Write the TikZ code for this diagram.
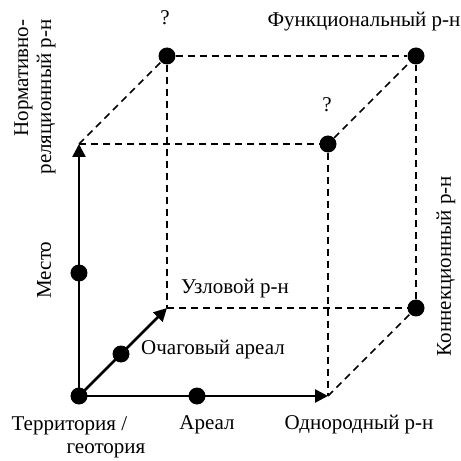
\documentclass[tikz,border=0pt]{standalone}
\usepackage{fontspec}
\setmainfont{Liberation Serif}
\usetikzlibrary{arrows.meta, positioning, calc}

\begin{document}
\begin{tikzpicture}[x=1pt, y=1pt,
    dot/.style={circle, fill=black, inner sep=0pt, minimum size=17pt},
    axis/.style={line width=2.6pt, -{Triangle[length=13pt,width=13pt]}},
    edge/.style={line width=1.6pt, dash pattern=on 7pt off 5pt},
    lbl/.style={font=\fontsize{21}{23}\selectfont, inner sep=0pt}]
\useasboundingbox (-79,-65) rectangle (382,396);

% Cube corners
\node[dot] (o) at (0,0) {};
\coordinate (x) at (249,0);
\coordinate (y) at (0,252);
\coordinate (z) at (88,88);
\node[dot] (xy) at (249,252) {};
\node[dot] (xz) at (337,88) {};
\node[dot] (yz) at (88,340) {};
\node[dot] (xyz) at (337,340) {};

% Points on the axes
\node[dot] (areal) at (118,0) {};
\node[dot] (mesto) at (0,123) {};
\node[dot] (ochag) at (42,42) {};

% Axes
\draw[axis] (o.center) -- (x);
\draw[axis] (o.center) -- (y);
\draw[axis] (o.center) -- (z);

% Hidden edges
\draw[edge] (y) -- (xy);
\draw[edge] (y) -- (yz);
\draw[edge] (yz) -- (xyz);
\draw[edge] (xy) -- (xyz);
\draw[edge] (yz) -- (z);
\draw[edge] (z) -- (xz);
\draw[edge] (xy) -- (x);
\draw[edge] (xz) -- (xyz);
\draw[edge] (x) -- (xz);

% Labels
\node[lbl] (q1) at (86,378) {?};
\node[lbl] (q2) at (248,291) {?};
\node[lbl] (funk) at (285,374) {Функциональный р-н};
\node[lbl, rotate=90, align=right] (norm) at (-44,299) {Нормативно-\\реляционный р-н};
\node[lbl, rotate=90] (mestol) at (-35,126) {Место};
\node[lbl, rotate=90] (konn) at (367,130) {Коннекционный р-н};
\node[lbl] (uzl) at (156,107) {Узловой р-н};
\node[lbl] (ochagl) at (134,46) {Очаговый ареал};
\node[lbl, align=left] (terr) at (-0.5,-41) {Территория /\\\hspace*{55pt}геотория};
\node[lbl] (areall) at (128,-29) {Ареал};
\node[lbl] (odn) at (280,-29) {Однородный р-н};
\end{tikzpicture}
\end{document}
